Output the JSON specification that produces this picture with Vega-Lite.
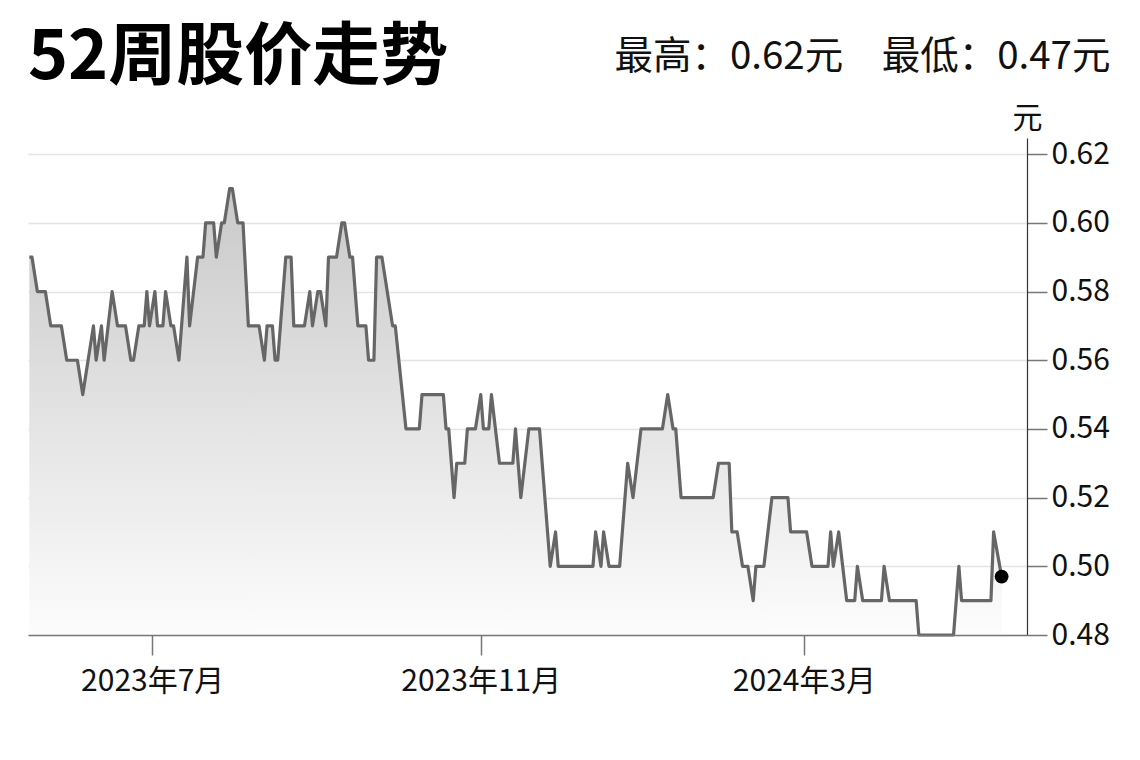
{
  "$schema": "https://vega.github.io/schema/vega-lite/v6.json",
  "width": 999,
  "height": 497,
  "autosize": {"type": "none"},
  "padding": {"left": 28, "top": 138, "right": 113, "bottom": 125},
  "background": "white",
  "title": {"text": "52周股价走势", "anchor": "start", "frame": "group", "baseline": "alphabetic", "offset": 0, "dy": 110, "font": "Noto Sans CJK SC", "fontSize": 68, "fontWeight": "bold", "color": "#000000"},
  "config": {"view": {"stroke": null}, "font": "Noto Sans CJK SC"},
  "datasets": {
    "price": [
      {"date": "2023-05-16", "price": 0.59}, {"date": "2023-05-17", "price": 0.59}, {"date": "2023-05-19", "price": 0.58}, {"date": "2023-05-22", "price": 0.58},
      {"date": "2023-05-24", "price": 0.57}, {"date": "2023-05-28", "price": 0.57}, {"date": "2023-05-30", "price": 0.56}, {"date": "2023-06-03", "price": 0.56},
      {"date": "2023-06-05", "price": 0.55}, {"date": "2023-06-09", "price": 0.57}, {"date": "2023-06-10", "price": 0.56}, {"date": "2023-06-12", "price": 0.57},
      {"date": "2023-06-13", "price": 0.56}, {"date": "2023-06-16", "price": 0.58}, {"date": "2023-06-18", "price": 0.57}, {"date": "2023-06-21", "price": 0.57},
      {"date": "2023-06-23", "price": 0.56}, {"date": "2023-06-24", "price": 0.56}, {"date": "2023-06-26", "price": 0.57}, {"date": "2023-06-28", "price": 0.57},
      {"date": "2023-06-29", "price": 0.58}, {"date": "2023-06-30", "price": 0.57}, {"date": "2023-07-02", "price": 0.58}, {"date": "2023-07-03", "price": 0.57},
      {"date": "2023-07-05", "price": 0.57}, {"date": "2023-07-06", "price": 0.58}, {"date": "2023-07-08", "price": 0.57}, {"date": "2023-07-09", "price": 0.57},
      {"date": "2023-07-11", "price": 0.56}, {"date": "2023-07-14", "price": 0.59}, {"date": "2023-07-15", "price": 0.57}, {"date": "2023-07-18", "price": 0.59},
      {"date": "2023-07-20", "price": 0.59}, {"date": "2023-07-21", "price": 0.60}, {"date": "2023-07-24", "price": 0.60}, {"date": "2023-07-25", "price": 0.59},
      {"date": "2023-07-27", "price": 0.60}, {"date": "2023-07-28", "price": 0.60}, {"date": "2023-07-30", "price": 0.61}, {"date": "2023-07-31", "price": 0.61},
      {"date": "2023-08-02", "price": 0.60}, {"date": "2023-08-04", "price": 0.60}, {"date": "2023-08-06", "price": 0.57}, {"date": "2023-08-10", "price": 0.57},
      {"date": "2023-08-12", "price": 0.56}, {"date": "2023-08-13", "price": 0.57}, {"date": "2023-08-15", "price": 0.57}, {"date": "2023-08-16", "price": 0.56},
      {"date": "2023-08-17", "price": 0.56}, {"date": "2023-08-20", "price": 0.59}, {"date": "2023-08-22", "price": 0.59}, {"date": "2023-08-23", "price": 0.57},
      {"date": "2023-08-27", "price": 0.57}, {"date": "2023-08-29", "price": 0.58}, {"date": "2023-08-30", "price": 0.57}, {"date": "2023-09-01", "price": 0.58},
      {"date": "2023-09-02", "price": 0.58}, {"date": "2023-09-04", "price": 0.57}, {"date": "2023-09-05", "price": 0.59}, {"date": "2023-09-08", "price": 0.59},
      {"date": "2023-09-10", "price": 0.60}, {"date": "2023-09-11", "price": 0.60}, {"date": "2023-09-13", "price": 0.59}, {"date": "2023-09-14", "price": 0.59},
      {"date": "2023-09-16", "price": 0.57}, {"date": "2023-09-19", "price": 0.57}, {"date": "2023-09-20", "price": 0.56}, {"date": "2023-09-22", "price": 0.56},
      {"date": "2023-09-23", "price": 0.59}, {"date": "2023-09-25", "price": 0.59}, {"date": "2023-09-29", "price": 0.57}, {"date": "2023-09-30", "price": 0.57},
      {"date": "2023-10-04", "price": 0.54}, {"date": "2023-10-09", "price": 0.54}, {"date": "2023-10-10", "price": 0.55}, {"date": "2023-10-18", "price": 0.55},
      {"date": "2023-10-19", "price": 0.54}, {"date": "2023-10-20", "price": 0.54}, {"date": "2023-10-22", "price": 0.52}, {"date": "2023-10-23", "price": 0.53},
      {"date": "2023-10-26", "price": 0.53}, {"date": "2023-10-27", "price": 0.54}, {"date": "2023-10-30", "price": 0.54}, {"date": "2023-11-01", "price": 0.55},
      {"date": "2023-11-02", "price": 0.54}, {"date": "2023-11-04", "price": 0.54}, {"date": "2023-11-05", "price": 0.55}, {"date": "2023-11-08", "price": 0.53},
      {"date": "2023-11-13", "price": 0.53}, {"date": "2023-11-14", "price": 0.54}, {"date": "2023-11-16", "price": 0.52}, {"date": "2023-11-19", "price": 0.54},
      {"date": "2023-11-23", "price": 0.54}, {"date": "2023-11-24", "price": 0.53}, {"date": "2023-11-27", "price": 0.50}, {"date": "2023-11-29", "price": 0.51},
      {"date": "2023-11-30", "price": 0.50}, {"date": "2023-12-13", "price": 0.50}, {"date": "2023-12-14", "price": 0.51}, {"date": "2023-12-16", "price": 0.50},
      {"date": "2023-12-17", "price": 0.51}, {"date": "2023-12-19", "price": 0.50}, {"date": "2023-12-23", "price": 0.50}, {"date": "2023-12-26", "price": 0.53},
      {"date": "2023-12-28", "price": 0.52}, {"date": "2023-12-31", "price": 0.54}, {"date": "2024-01-08", "price": 0.54}, {"date": "2024-01-10", "price": 0.55},
      {"date": "2024-01-12", "price": 0.54}, {"date": "2024-01-13", "price": 0.54}, {"date": "2024-01-15", "price": 0.52}, {"date": "2024-01-27", "price": 0.52},
      {"date": "2024-01-29", "price": 0.53}, {"date": "2024-02-02", "price": 0.53}, {"date": "2024-02-03", "price": 0.51}, {"date": "2024-02-05", "price": 0.51},
      {"date": "2024-02-07", "price": 0.50}, {"date": "2024-02-09", "price": 0.50}, {"date": "2024-02-11", "price": 0.49}, {"date": "2024-02-12", "price": 0.50},
      {"date": "2024-02-15", "price": 0.50}, {"date": "2024-02-18", "price": 0.52}, {"date": "2024-02-24", "price": 0.52}, {"date": "2024-02-25", "price": 0.51},
      {"date": "2024-03-02", "price": 0.51}, {"date": "2024-03-04", "price": 0.50}, {"date": "2024-03-10", "price": 0.50}, {"date": "2024-03-11", "price": 0.51},
      {"date": "2024-03-12", "price": 0.50}, {"date": "2024-03-14", "price": 0.51}, {"date": "2024-03-17", "price": 0.49}, {"date": "2024-03-20", "price": 0.49},
      {"date": "2024-03-21", "price": 0.50}, {"date": "2024-03-23", "price": 0.49}, {"date": "2024-03-30", "price": 0.49}, {"date": "2024-03-31", "price": 0.50},
      {"date": "2024-04-02", "price": 0.49}, {"date": "2024-04-12", "price": 0.49}, {"date": "2024-04-13", "price": 0.48}, {"date": "2024-04-26", "price": 0.48},
      {"date": "2024-04-28", "price": 0.50}, {"date": "2024-04-29", "price": 0.49}, {"date": "2024-05-10", "price": 0.49}, {"date": "2024-05-11", "price": 0.51},
      {"date": "2024-05-14", "price": 0.497}
    ],
    "last": [{"date": "2024-05-14", "price": 0.497}]
  },
  "layer": [
    {
      "data": {"name": "price"},
      "mark": {"type": "area", "line": false, "color": {"gradient": "linear", "x1": 0, "y1": 0, "x2": 0, "y2": 1, "stops": [{"offset": 0, "color": "#c9c9c9"}, {"offset": 1, "color": "#fcfcfc"}]}},
      "encoding": {
        "x": {"field": "date", "type": "temporal",
          "scale": {"type": "utc", "domain": [{"year": 2023, "month": 5, "date": 15, "hours": 12, "utc": true}, {"year": 2024, "month": 5, "date": 23, "hours": 12, "utc": true}]},
          "axis": {"orient": "bottom", "title": null, "grid": false, "zindex": 1,
            "values": [{"year": 2023, "month": 7, "date": 1, "utc": true}, {"year": 2023, "month": 11, "date": 1, "utc": true}, {"year": 2024, "month": 3, "date": 1, "utc": true}],
            "format": "%Y年%-m月", "labelFontSize": 30, "labelColor": "#111111", "labelFont": "Noto Sans CJK SC", "labelPadding": 11,
            "tickSize": 20, "tickColor": "#777777", "tickWidth": 1.5, "domainColor": "#777777", "domainWidth": 1.5}},
        "y": {"field": "price", "type": "quantitative",
          "scale": {"domain": [0.48, 0.6247], "zero": false, "nice": false},
          "axis": {"orient": "right", "values": [0.48, 0.50, 0.52, 0.54, 0.56, 0.58, 0.60, 0.62], "format": ".2f",
            "labelFontSize": 30, "labelColor": "#111111", "labelFont": "Noto Sans CJK SC", "labelPadding": 4,
            "tickSize": 20, "tickColor": "#777777", "tickWidth": 1.5, "domainColor": "#333333", "domainWidth": 1.2,
            "grid": true, "gridColor": "#e4e4e4", "gridWidth": 1.5,
            "title": "元", "titleAngle": 0, "titleX": 0, "titleY": -20, "titleAlign": "center", "titleBaseline": "middle",
            "titleFontSize": 30, "titleFontWeight": "normal", "titleColor": "#111111", "titleFont": "Noto Sans CJK SC"}},
        "y2": {"datum": 0.48}
      }
    },
    {
      "data": {"name": "price"},
      "mark": {"type": "line", "color": "#666666", "strokeWidth": 3.2, "strokeJoin": "round"},
      "encoding": {
        "x": {"field": "date", "type": "temporal",
          "axis": {"orient": "top", "labels": false, "ticks": false, "domain": false, "grid": false,
            "title": "最高：0.62元　最低：0.47元", "titleX": 1082, "titleY": -70, "titleAlign": "right", "titleAnchor": "end", "titleBaseline": "alphabetic",
            "titleFontSize": 38.5, "titleFontWeight": "normal", "titleColor": "#111111", "titleFont": "Noto Sans CJK SC"}},
        "y": {"field": "price", "type": "quantitative"}
      }
    },
    {
      "data": {"name": "last"},
      "mark": {"type": "point", "filled": true, "color": "#000000", "opacity": 1, "size": 190},
      "encoding": {
        "x": {"field": "date", "type": "temporal", "axis": null},
        "y": {"field": "price", "type": "quantitative"}
      }
    }
  ],
  "resolve": {"axis": {"x": "independent"}}
}
